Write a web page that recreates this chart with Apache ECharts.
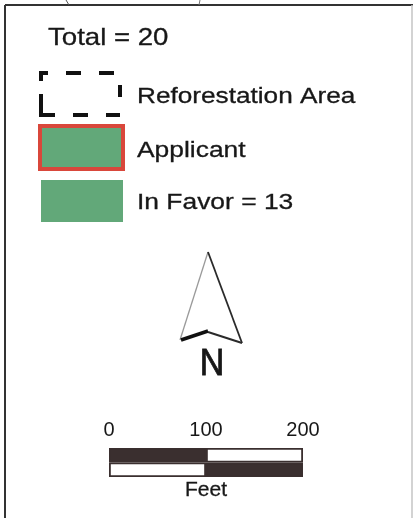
<!DOCTYPE html>
<html>
<head>
<meta charset="utf-8">
<script src="https://cdn.jsdelivr.net/npm/echarts@6/dist/echarts.min.js"></script>
<style>
  html, body { margin: 0; padding: 0; background: #ffffff; }
  #main { width: 417px; height: 518px; }
</style>
</head>
<body>
<div id="main"></div>
<script>
// legend texts
const totalLabel = 'Total = 20';
const legendLabels = ['Reforestation Area', 'Applicant', 'In Favor = 13'];
const northLabel = 'N';

// scale bar (feet)
const scaleTicks = [0, 100, 200];
const scaleRows = ['lower', 'upper'];
const firstSegment = [100, 100];   // 0 - 100
const secondSegment = [100, 100];  // 100 - 200
const scaleUnit = 'Feet';

const ink = '#171717';
const dark = '#3a2f2f';
const green = '#62a879';
const red = '#d9473b';
const font = '"Liberation Sans", Arial, sans-serif';

const chart = echarts.init(document.getElementById('main'), null, { renderer: 'canvas' });

function label(text, x, y, size, sx) {
  return {
    type: 'text', x: x, y: y, scaleX: sx || 1,
    style: { x: 0, y: 0, text: text, fill: ink, stroke: ink, lineWidth: 0.3,
      font: size + 'px ' + font, textAlign: 'left', textVerticalAlign: 'middle' }
  };
}

const option = {
  backgroundColor: '#ffffff',
  animation: false,
  grid: { left: 109, top: 448, width: 194, height: 29 },
  xAxis: {
    type: 'value', position: 'top', min: scaleTicks[0], max: scaleTicks[scaleTicks.length - 1], interval: 100,
    axisLine: { show: false }, axisTick: { show: false }, splitLine: { show: false },
    axisLabel: { color: ink, fontSize: 20, fontFamily: font, margin: 8 }
  },
  yAxis: {
    type: 'category', data: scaleRows, show: false
  },
  series: [
    {
      type: 'bar', stack: 'scale', barCategoryGap: 0,
      data: firstSegment.map((v, i) => ({ value: v, itemStyle: { color: i === 0 ? '#ffffff' : dark } })),
      itemStyle: { borderColor: dark, borderWidth: 1.8 }
    },
    {
      type: 'bar', stack: 'scale', barCategoryGap: 0,
      data: secondSegment.map((v, i) => ({ value: v, itemStyle: { color: i === 0 ? dark : '#ffffff' } })),
      itemStyle: { borderColor: dark, borderWidth: 1.8 }
    }
  ],
  graphic: [
    // frame
    { type: 'line', shape: { x1: 5, y1: 5, x2: 5, y2: 518 }, style: { stroke: '#333', lineWidth: 2 } },
    { type: 'line', shape: { x1: 5, y1: 5, x2: 413, y2: 5 }, style: { stroke: '#333', lineWidth: 2 } },
    { type: 'line', shape: { x1: 412, y1: 5, x2: 412, y2: 518 }, style: { stroke: '#c4c4c4', lineWidth: 1.5 } },
    { type: 'line', shape: { x1: 66, y1: 0, x2: 69, y2: 5 }, style: { stroke: '#555', lineWidth: 1 } },
    { type: 'line', shape: { x1: 200, y1: 0, x2: 199, y2: 5 }, style: { stroke: '#777', lineWidth: 1 } },

    label(totalLabel, 48, 38, 24, 1.15),

    // legend symbols
    { type: 'rect', shape: { x: 41, y: 73, width: 79, height: 42 },
      style: { fill: 'none', stroke: '#111', lineWidth: 4,
        lineDash: [7, 18, 15, 18, 15, 18, 12, 18, 14, 18, 15, 18, 35, 13, 8, 100] } },
    { type: 'rect', shape: { x: 40, y: 126, width: 83, height: 43 },
      style: { fill: green, stroke: red, lineWidth: 4 } },
    { type: 'rect', shape: { x: 41, y: 180, width: 82, height: 42 },
      style: { fill: green, stroke: null } },

    label(legendLabels[0], 137, 97, 22, 1.19),
    label(legendLabels[1], 137, 151, 22, 1.2),
    label(legendLabels[2], 137, 203, 22, 1.2),

    // north arrow
    { type: 'polygon', shape: { points: [[208, 252], [242, 343], [208, 332], [180, 340]] },
      style: { fill: '#ffffff', stroke: null } },
    { type: 'polyline', shape: { points: [[180, 340], [208, 252]] }, style: { stroke: '#9a9a9a', lineWidth: 1.3 } },
    { type: 'polyline', shape: { points: [[208, 252], [242, 343]] }, style: { stroke: '#2a2a2a', lineWidth: 1.8 } },
    { type: 'polyline', shape: { points: [[208, 332], [242, 343]] }, style: { stroke: '#2a2a2a', lineWidth: 2 } },
    { type: 'polyline', shape: { points: [[181, 340], [208, 331]] }, style: { stroke: '#111', lineWidth: 3.5 } },
    { type: 'text', x: 212, y: 365, scaleX: 0.92,
      style: { x: 0, y: 0, text: northLabel, fill: ink, stroke: ink, lineWidth: 0.8,
        font: '37px ' + font, textAlign: 'center', textVerticalAlign: 'middle' } },

    // scale unit
    { type: 'text', x: 206, y: 490,
      style: { x: 0, y: 0, text: scaleUnit, fill: ink, stroke: ink, lineWidth: 0.3,
        font: '21px ' + font, textAlign: 'center', textVerticalAlign: 'middle' } }
  ]
};

chart.setOption(option);
</script>
</body>
</html>
